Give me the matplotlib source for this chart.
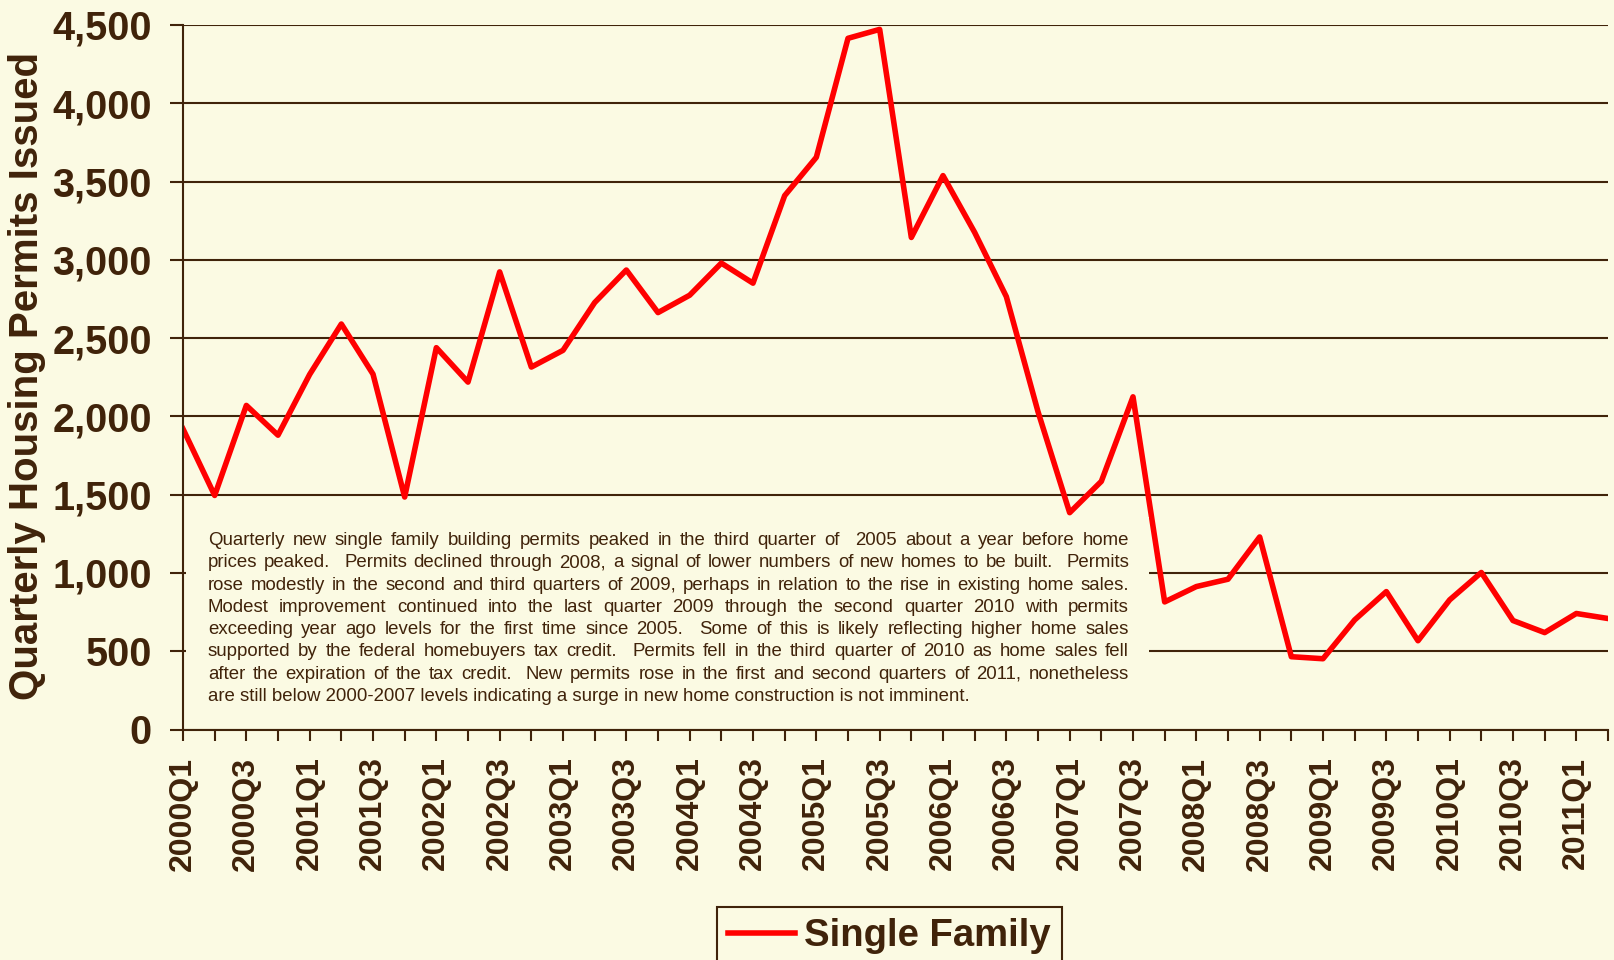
import matplotlib
matplotlib.use("Agg")
import matplotlib.pyplot as plt
from matplotlib.patches import Rectangle

# data
quarters = [f"{y}Q{q}" for y in range(2000, 2012) for q in range(1, 5)][:46]
permits = [1920, 1495, 2070, 1880, 2268, 2590, 2270, 1485, 2439, 2219,
           2923, 2315, 2422, 2727, 2935, 2663, 2774, 2979, 2851, 3410,
           3655, 4415, 4472, 3143, 3538, 3175, 2765, 2030, 1385, 1585,
           2125, 815, 913, 960, 1230, 465, 452, 700, 881, 567,
           828, 1003, 696, 619, 741, 709]
yticks = [0, 500, 1000, 1500, 2000, 2500, 3000, 3500, 4000, 4500]

note_lines = [
    "Quarterly new single family building permits peaked in the third quarter of  2005 about a year before home",
    "prices peaked.  Permits declined through 2008, a signal of lower numbers of new homes to be built.  Permits",
    "rose modestly in the second and third quarters of 2009, perhaps in relation to the rise in existing home sales.",
    "Modest improvement continued into the last quarter 2009 through the second quarter 2010 with permits",
    "exceeding year ago levels for the first time since 2005.  Some of this is likely reflecting higher home sales",
    "supported by the federal homebuyers tax credit.  Permits fell in the third quarter of 2010 as home sales fell",
    "after the expiration of the tax credit.  New permits rose in the first and second quarters of 2011, nonetheless",
    "are still below 2000-2007 levels indicating a surge in new home construction is not imminent.",
]

bg = '#FBFAE3'
brown = '#40230A'
red = '#FF0000'

plt.rcParams.update({'font.family': 'Liberation Sans'})

W, H = 1615, 960
fig = plt.figure(figsize=(W / 100, H / 100), dpi=100, facecolor=bg)
ax = fig.add_axes([183 / W, 1 - 729.5 / H, (1608 - 183) / W, (729.5 - 25) / H])
ax.set_facecolor(bg)

x = list(range(len(quarters)))
ax.plot(x, permits, color=red, linewidth=4, zorder=2.1, label='Single Family')

ax.set_xlim(0, len(quarters) - 1)
ax.set_ylim(0, 4500)
ax.set_yticks(yticks)
ax.set_yticklabels([f"{v:,}" for v in yticks], fontsize=28.5, fontweight='bold', color=brown)
ax.set_xticks(x)
ax.set_xticklabels([q if i % 2 == 0 else '' for i, q in enumerate(quarters)],
                   rotation=90, fontsize=23, fontweight='bold', color=brown)

ax.tick_params(axis='y', direction='out', length=9.4, width=1.5, color=brown, pad=13)
ax.tick_params(axis='x', direction='out', length=8, width=1.5, color=brown, pad=11.5)

ax.spines['top'].set_visible(False)
ax.spines['right'].set_visible(False)
for s in ['left', 'bottom']:
    ax.spines[s].set_color(brown)
    ax.spines[s].set_linewidth(1.5)

ax.set_axisbelow(True)
ax.grid(axis='y', color=brown, linewidth=1.5)
ax.grid(axis='x', visible=False)

# box behind the note hides gridlines
ax.add_patch(Rectangle((0.002, 0.004), 0.676, 0.298, transform=ax.transAxes,
                       facecolor=bg, edgecolor='none', zorder=2.2))

fig.text(27 / W, 1 - 375.5 / H, 'Quarterly Housing Permits Issued', rotation=90,
         ha='center', va='center', fontsize=29, fontweight='bold', color=brown)

# justified note text
renderer = fig.canvas.get_renderer()


def text_width(s, size):
    t = fig.text(0, 0, s, fontsize=size)
    w = t.get_window_extent(renderer).width
    t.remove()
    return w


left_px, right_px = 208, 1129
fs = 13 * 761 / text_width(note_lines[-1], 13)
base0, step = 545, 22.3
for i, line in enumerate(note_lines):
    ypx = H - (base0 + i * step)
    if i == len(note_lines) - 1:
        fig.text(left_px / W, ypx / H, line, fontsize=fs, color=brown, va='baseline', zorder=5)
        continue
    words = line.split(' ')
    widths = [text_width(w, fs) if w else 0 for w in words]
    gap = (right_px - left_px - sum(widths)) / (len(words) - 1)
    xp = left_px
    for w, wd in zip(words, widths):
        if w:
            fig.text(xp / W, ypx / H, w, fontsize=fs, color=brown, va='baseline', zorder=5)
        xp += wd + gap

leg = fig.legend(loc='upper left', bbox_to_anchor=(717 / W, 1 - 907 / H), borderaxespad=0,
                 prop={'size': 27.5, 'weight': 'bold'}, handlelength=1.75, handletextpad=0.22,
                 borderpad=0.3, fancybox=False, framealpha=1, facecolor=bg, edgecolor=brown)
leg.get_frame().set_linewidth(1.5)
for t in leg.get_texts():
    t.set_color(brown)

fig.savefig('out.png', dpi=100, facecolor=bg)
